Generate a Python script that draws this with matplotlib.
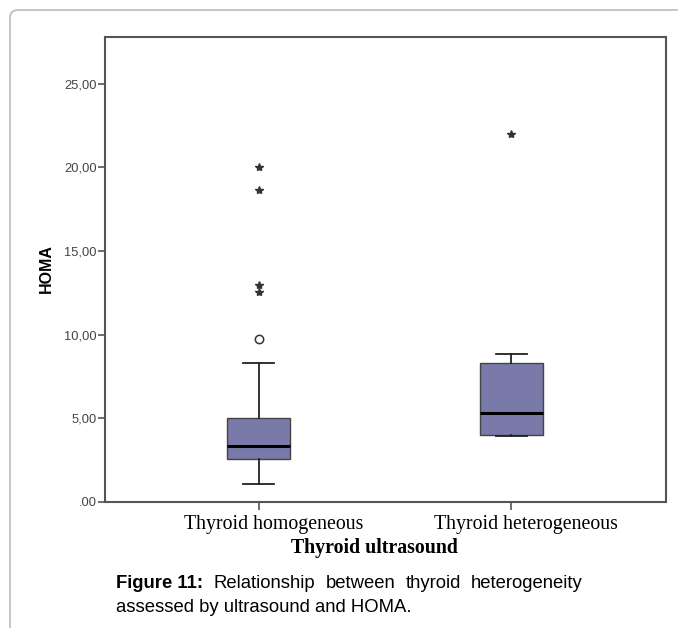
import numpy as np
import matplotlib.pyplot as plt
from matplotlib.patches import FancyBboxPatch
from matplotlib.transforms import ScaledTranslation

# box statistics
groups = ['Thyroid homogeneous', 'Thyroid heterogeneous']
q1 = [2.57, 4.00]
med = [3.35, 5.32]
q3 = [5.02, 8.31]
whislo = [1.08, 3.95]
whishi = [8.31, 8.85]
circle_out = [[9.75], []]
star_out = [[20.0, 18.65, 13.0, 12.56], [22.0]]
yticks = [0, 5, 10, 15, 20, 25]
ytick_labels = ['.00', '5,00', '10,00', '15,00', '20,00', '25,00']

fig = plt.figure(figsize=(6.78, 6.28), dpi=100)

# rounded page frame
frame = FancyBboxPatch((10 / 678, -0.05), 1.0, 1 - 10 / 628 + 0.05,
                       boxstyle='round,pad=0,rounding_size=0.012',
                       transform=fig.transFigure, fc='none', ec='#bbbbbb',
                       lw=1.2, zorder=-1)
fig.patches.append(frame)

ax = fig.add_axes([105 / 678, 1 - 502 / 628, 561 / 678, 465 / 628])

stats = []
for i in range(2):
    stats.append(dict(q1=q1[i], med=med[i], q3=q3[i], whislo=whislo[i],
                      whishi=whishi[i], fliers=[], label=groups[i]))

pos = [1, 2]
ax.bxp(stats, positions=pos, widths=0.25, patch_artist=True, showfliers=False,
       boxprops=dict(facecolor='#7a7aaa', edgecolor='#444444', lw=1.0),
       medianprops=dict(color='black', lw=2.2),
       whiskerprops=dict(color='#222222', lw=1.3),
       capprops=dict(color='#222222', lw=1.3), capwidths=0.123)

for i in range(2):
    if circle_out[i]:
        ax.plot([pos[i]] * len(circle_out[i]), circle_out[i], 'o', mfc='white',
                mec='#333333', ms=6, mew=1.1)
    if star_out[i]:
        ax.plot([pos[i]] * len(star_out[i]), star_out[i], '*', color='#333333',
                ms=6)

ax.set_xlim(0.389, 2.615)
ax.set_ylim(0, 27.8)
ax.set_yticks(yticks)
ax.set_yticklabels(ytick_labels, fontsize=9.3, color='#444444',
                   family='Liberation Sans')
ax.set_xticks(pos)
ax.set_xticklabels([])
# category labels sit a little right of their ticks, as in SPSS output
shift = ScaledTranslation(15 / 100, -22 / 100, fig.dpi_scale_trans)
for p, g in zip(pos, groups):
    ax.text(p, 0, g, transform=ax.get_xaxis_transform() + shift,
            fontsize=14.3, family='Liberation Serif', ha='center', va='center')
ax.tick_params(axis='y', length=5, width=1.2, color='#555555', pad=1)
ax.tick_params(axis='x', length=6, width=1.2, color='#555555')
for s in ax.spines.values():
    s.set_color('#555555')
    s.set_linewidth(1.5)

ax.set_ylabel('HOMA', fontsize=11.5, fontweight='bold', family='Liberation Sans')
ax.yaxis.set_label_coords(-0.091, 0.503)
fig.text(374 / 678, 1 - 548 / 628, 'Thyroid ultrasound', fontsize=14.3,
         fontweight='bold', family='Liberation Serif', ha='center', va='center')

# caption, first line justified between x=116 and x=583
cap_y1 = 1 - 583 / 628
cap_y2 = 1 - 608 / 628
words = ['Figure 11:', 'Relationship', 'between', 'thyroid', 'heterogeneity']
texts = []
for j, w in enumerate(words):
    texts.append(fig.text(0, cap_y1, w, fontsize=13.3, family='Liberation Sans',
                          fontweight='bold' if j == 0 else 'normal',
                          va='center'))
fig.canvas.draw()
r = fig.canvas.get_renderer()
widths = [t.get_window_extent(r).width for t in texts]
gap = (583 - 116 - sum(widths)) / (len(words) - 1)
x = 116
for t, wd in zip(texts, widths):
    t.set_x(x / 678)
    x += wd + gap
fig.text(116 / 678, cap_y2, 'assessed by ultrasound and HOMA.',
         fontsize=13.3, family='Liberation Sans', va='center')

fig.savefig('out.png', dpi=100)
